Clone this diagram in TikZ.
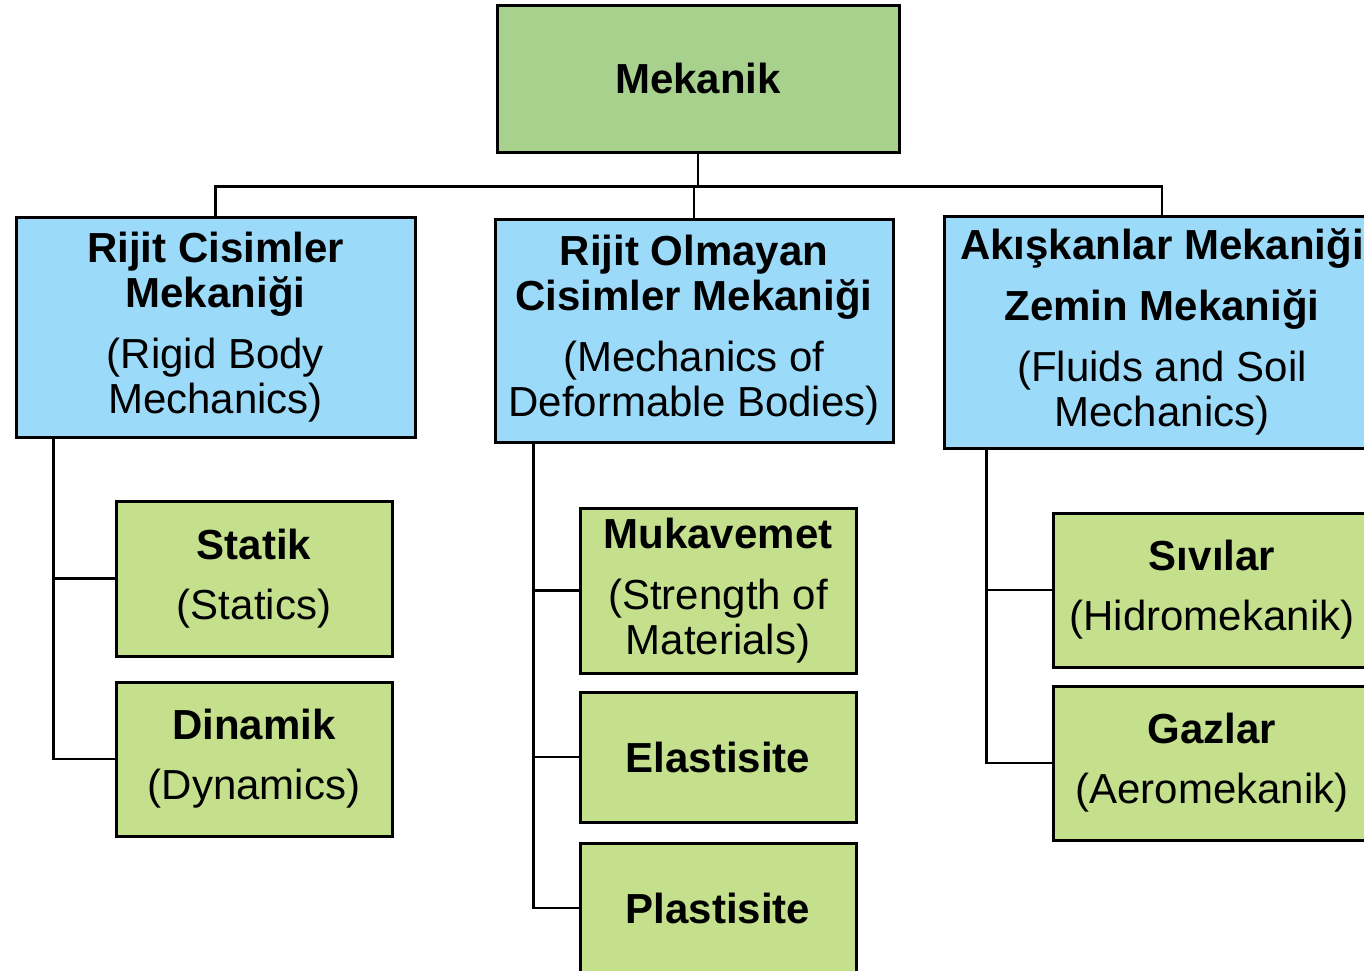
\documentclass[tikz,border=0pt]{standalone}
\usepackage{fontspec}
\setmainfont{Liberation Sans}
\definecolor{topgreen}{HTML}{A9D18E}
\definecolor{subgreen}{HTML}{C4E08C}
\definecolor{bodyblue}{HTML}{9BDAF8}
\begin{document}
\begin{tikzpicture}[x=1pt, y=-1pt,
    box/.style = {draw, line width=3pt, inner sep=0pt, align=center,
                 font=\fontsize{42}{45}\selectfont},
    headbox/.style = {box, fill=topgreen},
    mainbox/.style = {box, fill=bodyblue},
    subbox/.style = {box, fill=subgreen, minimum width=276pt},
    link/.style = {line width=2.5pt}
                    ]
        \useasboundingbox (0,0) rectangle (1364,970);
        \clip (0,0) rectangle (1364,970);
        % top level
        \node[headbox, minimum width=402pt, minimum height=147pt] (mek) at (698,78.5) {\textbf{Mekanik}};
        % second level
        \node[mainbox, minimum width=399pt, minimum height=220pt] (rigid) at (215.5,327)
            {\textbf{Rijit Cisimler}\\\textbf{Mekaniği}\\[16pt](Rigid Body\\Mechanics)};
        \node[mainbox, minimum width=398pt, minimum height=223pt] (deform) at (694,330.5)
            {\textbf{Rijit Olmayan}\\\textbf{Cisimler Mekaniği}\\[16pt](Mechanics of\\Deformable Bodies)};
        \node[mainbox, minimum width=436pt, minimum height=232pt] (fluid) at (1162,332)
            {\textbf{Akışkanlar Mekaniği}\\[16pt]\textbf{Zemin Mekaniği}\\[16pt](Fluids and Soil\\Mechanics)};
        % third level
        \node[subbox, minimum height=155pt] (statik) at (254,578.5) {\textbf{Statik}\\[15pt](Statics)};
        \node[subbox, minimum height=154pt] (dinamik) at (254,759) {\textbf{Dinamik}\\[15pt](Dynamics)};
        \node[subbox, minimum height=165pt] (mukav) at (718,590.5)
            {\textbf{Mukavemet}\\[16pt](Strength of\\Materials)};
        \node[subbox, minimum height=130pt] (elast) at (718,757) {\textbf{Elastisite}};
        \node[subbox, minimum height=130pt] (plast) at (718,908) {\textbf{Plastisite}};
        \node[subbox, minimum width=318pt, minimum height=154pt] (sivi) at (1212,590)
            {\textbf{Sıvılar}\\[15pt](Hidromekanik)};
        \node[subbox, minimum width=318pt, minimum height=154pt] (gaz) at (1212,763)
            {\textbf{Gazlar}\\[15pt](Aeromekanik)};
        % connectors
        \foreach \b in {rigid, deform, fluid}
            \draw[link] (mek.south) -- ++(0,33) -| (\b.north);
        \foreach \s in {statik, dinamik}
            \draw[link] ([xshift=39pt]rigid.south west) |- (\s.west);
        \foreach \s in {mukav, elast, plast}
            \draw[link] ([xshift=40pt]deform.south west) |- (\s.west);
        \foreach \s in {sivi, gaz}
            \draw[link] ([xshift=44pt]fluid.south west) |- (\s.west);
    \end{tikzpicture}
\end{document}
